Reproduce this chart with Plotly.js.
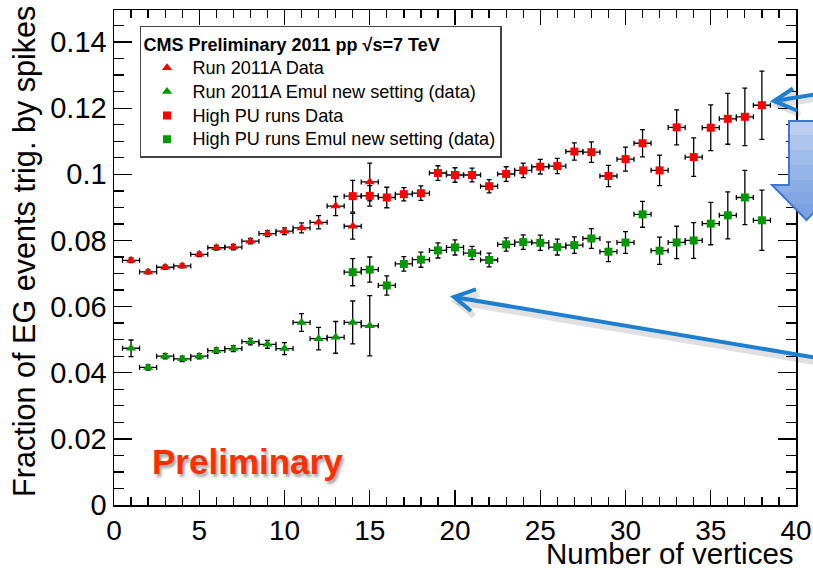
<!DOCTYPE html>
<html>
<head>
<meta charset="utf-8">
<script src="https://cdn.plot.ly/plotly-3.0.1.min.js"></script>
<style>
  html, body { margin: 0; padding: 0; background: #ffffff; }
  #chart { width: 813px; height: 570px; }
</style>
</head>
<body>
<div id="chart"></div>
<script>
// Number of reconstructed vertices (bin centres)
const vtxRun2011A = [1, 2, 3, 4, 5, 6, 7, 8, 9, 10, 11, 12, 13, 14, 15];
const vtxHighPU = [14, 15, 16, 17, 18, 19, 20, 21, 22, 23, 24, 25, 26, 27, 28, 29, 30, 31, 32, 33, 34, 35, 36, 37, 38];

// Run 2011A, current data
const run2011AData = [0.0740, 0.0705, 0.0719, 0.0723, 0.0758, 0.0778, 0.0780, 0.0798, 0.0821, 0.0828, 0.0838, 0.0855, 0.0904, 0.0843, 0.0977];
const run2011ADataErr = [0.0007, 0.0006, 0.0006, 0.0006, 0.0007, 0.0007, 0.0008, 0.0008, 0.0009, 0.0010, 0.0015, 0.0020, 0.0029, 0.0039, 0.0057];

// Run 2011A, emulated with the new setting
const run2011AEmul = [0.0474, 0.0416, 0.0450, 0.0442, 0.0450, 0.0467, 0.0473, 0.0494, 0.0486, 0.0473, 0.0552, 0.0503, 0.0507, 0.0552, 0.0542];
const run2011AEmulErr = [0.0025, 0.0008, 0.0008, 0.0008, 0.0008, 0.0008, 0.0009, 0.0010, 0.0012, 0.0018, 0.0027, 0.0034, 0.0048, 0.0065, 0.0091];

// High pile-up runs, current data
const highPUData = [0.0934, 0.0935, 0.0930, 0.0940, 0.0943, 0.1004, 0.0998, 0.0998, 0.0964, 0.1001, 0.1012, 0.1023, 0.1025, 0.1069, 0.1067, 0.0995, 0.1046, 0.1094, 0.1012, 0.1142, 0.1052, 0.1141, 0.1168, 0.1174, 0.1209];
const highPUDataErr = [0.0048, 0.0031, 0.0031, 0.0020, 0.0022, 0.0022, 0.0022, 0.0021, 0.0020, 0.0022, 0.0022, 0.0022, 0.0023, 0.0026, 0.0031, 0.0032, 0.0036, 0.0041, 0.0046, 0.0053, 0.0058, 0.0069, 0.0077, 0.0087, 0.0103];

// High pile-up runs, emulated with the new setting
const highPUEmul = [0.0704, 0.0712, 0.0664, 0.0729, 0.0742, 0.0770, 0.0779, 0.0762, 0.0741, 0.0788, 0.0795, 0.0793, 0.0780, 0.0786, 0.0806, 0.0766, 0.0794, 0.0879, 0.0769, 0.0794, 0.0800, 0.0851, 0.0876, 0.0930, 0.0861];
const highPUEmulErr = [0.0041, 0.0038, 0.0029, 0.0022, 0.0023, 0.0023, 0.0023, 0.0020, 0.0021, 0.0020, 0.0022, 0.0023, 0.0024, 0.0025, 0.0030, 0.0030, 0.0033, 0.0039, 0.0041, 0.0049, 0.0054, 0.0064, 0.0071, 0.0082, 0.0091];

const seriesNames = [
  'Run 2011A Data',
  'Run 2011A Emul new setting (data)',
  'High PU runs Data',
  'High PU runs Emul new setting (data)'
];

const RED = '#ff0000';
const GREEN = '#009a00';
const FONT = 'Liberation Sans, Arial, Helvetica, sans-serif';
const binHalfWidth = 0.5;

// legend rows are spaced by the small base font, the text itself is drawn larger
function legendLabel(s) { return '<span style="font-size:18.1px">' + s + '</span>'; }

function series(x, y, err, name, color, symbol, size) {
  return {
    type: 'scatter', mode: 'markers', name: legendLabel(name), x: x, y: y,
    marker: { color: color, symbol: symbol, size: size, line: { width: 0 } },
    error_y: { type: 'data', array: err, visible: true, color: '#000', thickness: 1.3, width: 2.5 },
    error_x: { type: 'constant', value: binHalfWidth, visible: true, color: '#000', thickness: 1.3, width: 2.5 }
  };
}

const traces = [
  series(vtxRun2011A, run2011AData, run2011ADataErr, seriesNames[0], RED, 'triangle-up', 9),
  series(vtxRun2011A, run2011AEmul, run2011AEmulErr, seriesNames[1], GREEN, 'triangle-up', 9),
  series(vtxHighPU, highPUData, highPUDataErr, seriesNames[2], RED, 'square', 8),
  series(vtxHighPU, highPUEmul, highPUEmulErr, seriesNames[3], GREEN, 'square', 8)
];

// frame geometry in pixels, used for the slide arrows drawn around the plot
const W = 813, H = 570;
const M = { l: 114, r: 17, t: 10, b: 65 };
const PW = W - M.l - M.r, PH = H - M.t - M.b;
function px(x) { return ((x - M.l) / PW).toFixed(4); }
function py(y) { return ((H - M.b - y) / PH).toFixed(4); }
function pt(x, y) { return px(x) + ',' + py(y); }
function poly(points) {
  return points.map((p, i) => (i ? 'L' : 'M') + pt(p[0], p[1])).join(' ') + ' Z';
}

const BLUE = '#1d7fd0';
function arrowShapes(tail, tip, armA, armB, dx, dy) {
  const line = 'M' + pt(tail[0], tail[1]) + ' L' + pt(tip[0], tip[1]);
  const head = 'M' + pt(armA[0], armA[1]) + ' L' + pt(tip[0], tip[1]) + ' L' + pt(armB[0], armB[1]);
  const shadowLine = 'M' + pt(tail[0] + dx, tail[1] + dy) + ' L' + pt(tip[0] + dx, tip[1] + dy);
  const shadowHead = 'M' + pt(armA[0] + dx, armA[1] + dy) + ' L' + pt(tip[0] + dx, tip[1] + dy) + ' L' + pt(armB[0] + dx, armB[1] + dy);
  const base = { type: 'path', xref: 'paper', yref: 'paper', layer: 'above' };
  return [
    Object.assign({}, base, { path: shadowLine, line: { color: 'rgba(60,60,80,0.16)', width: 6 } }),
    Object.assign({}, base, { path: shadowHead, line: { color: 'rgba(60,60,80,0.16)', width: 6 } }),
    Object.assign({}, base, { path: line, line: { color: BLUE, width: 4 } }),
    Object.assign({}, base, { path: head, line: { color: BLUE, width: 4 } })
  ];
}

// block arrow pointing down at the right edge
const BA = { x0: 789, x1: 824, top: 121, headY: 185, hx0: 772, hx1: 841, tipX: 806.5, tipY: 220 };
// part of the block arrow below height t, stacked to give a top-to-bottom shading
function blockArrowBelow(t) {
  if (t <= BA.headY) {
    return poly([[BA.x0, t], [BA.x1, t], [BA.x1, BA.headY], [BA.hx1, BA.headY],
      [BA.tipX, BA.tipY], [BA.hx0, BA.headY], [BA.x0, BA.headY]]);
  }
  const hw = (BA.tipY - t) * (BA.tipX - BA.hx0) / (BA.tipY - BA.headY);
  return poly([[BA.tipX - hw, t], [BA.tipX + hw, t], [BA.tipX, BA.tipY]]);
}
const shadeLevels = [135, 150, 165, 180, 192, 204];
const blockShapes = [
  { type: 'path', xref: 'paper', yref: 'paper', layer: 'above', path: blockArrowBelow(BA.top),
    fillcolor: '#bccff1', line: { width: 0 } }
].concat(shadeLevels.map(t => ({
  type: 'path', xref: 'paper', yref: 'paper', layer: 'above', path: blockArrowBelow(t),
  fillcolor: 'rgba(80,130,215,0.13)', line: { width: 0 }
}))).concat([
  { type: 'path', xref: 'paper', yref: 'paper', layer: 'above', path: blockArrowBelow(BA.top),
    fillcolor: 'rgba(0,0,0,0)', line: { color: '#3f78c8', width: 2 } }
]);

const shapes = [].concat(
  arrowShapes([830, 92], [774, 101], [793, 88.5], [797, 110.5], 3, 4),
  arrowShapes([830, 360], [454, 297], [476, 289.5], [471, 311], 3, 5),
  blockShapes
);

const layout = {
  width: W, height: H,
  margin: M,
  paper_bgcolor: '#ffffff', plot_bgcolor: '#ffffff',
  font: { family: FONT, color: '#000' },
  showlegend: true,
  legend: {
    x: px(140), y: py(26), xanchor: 'left', yanchor: 'top',
    bgcolor: '#ffffff', bordercolor: '#444', borderwidth: 1.5,
    font: { family: FONT, size: 16, color: '#000' },
    title: { text: '<b>CMS Preliminary 2011 pp \u221As=7 TeV</b>', font: { family: FONT, size: 18, color: '#000' } },
    itemwidth: 41, tracegroupgap: 0
  },
  xaxis: {
    range: [0, 40], tick0: 0, dtick: 5,
    ticks: 'inside', ticklen: 15, tickwidth: 1.3, tickcolor: '#000',
    minor: { dtick: 1, ticks: 'inside', ticklen: 8, tickwidth: 1.3, tickcolor: '#000', showgrid: false },
    showline: true, linecolor: '#000', linewidth: 1.5, mirror: 'ticks',
    showgrid: false, zeroline: false,
    tickfont: { family: FONT, size: 28, color: '#000' },
    ticklabelstandoff: 0
  },
  yaxis: {
    range: [0, 0.1497], tick0: 0, dtick: 0.02,
    ticks: 'inside', ticklen: 18, tickwidth: 1.3, tickcolor: '#000',
    minor: { dtick: 0.005, ticks: 'inside', ticklen: 10, tickwidth: 1.3, tickcolor: '#000', showgrid: false },
    showline: true, linecolor: '#000', linewidth: 1.5, mirror: 'ticks',
    showgrid: false, zeroline: false,
    tickfont: { family: FONT, size: 29, color: '#000' },
    ticklabelstandoff: 0
  },
  shapes: shapes,
  annotations: [
    { xref: 'paper', yref: 'paper', x: 1, y: py(572), xanchor: 'right', yanchor: 'bottom',
      text: 'Number of vertices', showarrow: false, font: { family: FONT, size: 29.5, color: '#000' } },
    { xref: 'paper', yref: 'paper', x: px(24), y: py(251), xanchor: 'center', yanchor: 'middle',
      text: 'Fraction of EG events trig. by spikes', textangle: -90, showarrow: false,
      font: { family: FONT, size: 30.6, color: '#000' } },
    { xref: 'paper', yref: 'paper', x: px(150), y: py(462), xanchor: 'left', yanchor: 'middle',
      text: '<b>Preliminary</b>', showarrow: false,
      font: { family: FONT, size: 35, color: '#ff2e00', shadow: '2px 3px 3px rgba(0,0,0,0.35)' } }
  ]
};

Plotly.newPlot('chart', traces, layout, { displayModeBar: false, staticPlot: true });
</script>
</body>
</html>
